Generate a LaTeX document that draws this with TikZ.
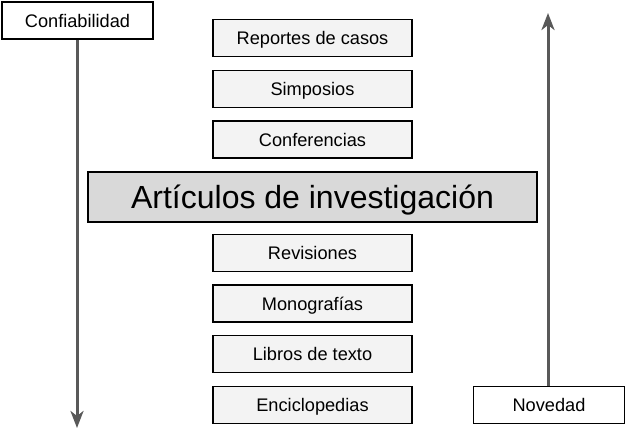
\documentclass[tikz,border=0pt]{standalone}
\usepackage{fontspec}
\setmainfont{Liberation Sans}
\usepackage{tikz}
\usetikzlibrary{arrows.meta, positioning}

\definecolor{boxfill}{HTML}{F3F3F3}
\definecolor{mainfill}{HTML}{D9D9D9}
\definecolor{arrowgray}{HTML}{595959}

\tikzset{
  pubbox/.style={draw=black, line width=1.8pt, fill=boxfill, minimum width=199pt, minimum height=37pt, inner sep=0pt, text depth=0pt, font=\fontsize{18.2}{21}\selectfont},
  mainbox/.style={draw=black, line width=1.8pt, fill=mainfill, minimum width=449pt, minimum height=50pt, inner sep=0pt, text depth=0pt, font=\fontsize{32}{37}\selectfont},
  axisbox/.style={draw=black, line width=1.8pt, fill=white, minimum width=151pt, minimum height=37pt, inner sep=0pt, text depth=0pt, font=\fontsize{18.2}{21}\selectfont},
  axisarrow/.style={draw=arrowgray, line width=3pt, -{Stealth[length=17pt, width=13pt, inset=5pt]}}
}

\begin{document}
\begin{tikzpicture}[x=1pt, y=-1pt]
  \useasboundingbox (0,0) rectangle (627,429);

  % Axis labels
  \node[axisbox] (conf) at (77.5,20.5) {Confiabilidad};
  \node[axisbox] (nov) at (549,405) {Novedad};
  \coordinate (confend) at (77,428);
  \coordinate (novend) at (548,13);

  % Publication types
  \node[pubbox] (rep) at (312.5,38) {Reportes de casos};
  \node[pubbox] (sim) at (312.5,89) {Simposios};
  \node[pubbox] (conferencias) at (312.5,139.5) {Conferencias};
  \node[mainbox] (art) at (312.5,197) {Artículos de investigación};
  \node[pubbox] (rev) at (312.5,253) {Revisiones};
  \node[pubbox] (mono) at (312.5,303.5) {Monografías};
  \node[pubbox] (libros) at (312.5,354) {Libros de texto};
  \node[pubbox] (enc) at (312.5,405) {Enciclopedias};

  % Arrows
  \draw[axisarrow] (conf.south -| confend) -- (confend);
  \draw[axisarrow] (nov.north -| novend) -- (novend);
\end{tikzpicture}
\end{document}
